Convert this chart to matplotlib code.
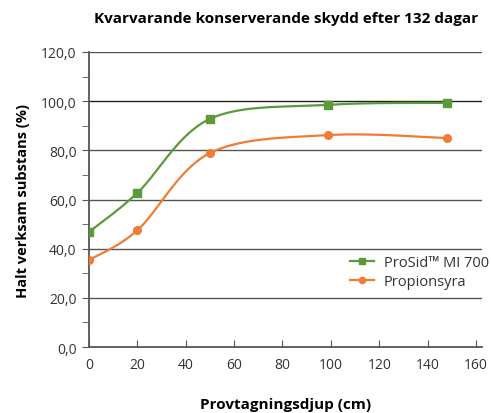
import numpy as np
import matplotlib.pyplot as plt
from matplotlib.ticker import MultipleLocator, FuncFormatter

# ======== Data ========
depth = [0, 20, 50, 99, 148]
prosid = [46.8, 62.7, 92.8, 98.5, 99.3]
propion = [35.4, 47.5, 78.9, 86.2, 85.0]
series_names = ["ProSid\u2122 MI 700", "Propionsyra"]

GREEN = "#5a9a3b"
ORANGE = "#f07b35"

plt.rcParams['font.family'] = ['Open Sans', 'DejaVu Sans']


def smooth(x, y, n=40):
    # Catmull-Rom style curve through the points (like Excel smoothed lines)
    x = np.asarray(x, float)
    y = np.asarray(y, float)
    px = np.concatenate([[x[0]], x, [x[-1]]])
    py = np.concatenate([[y[0]], y, [y[-1]]])
    xs, ys = [], []
    for i in range(1, len(px) - 2):
        t = np.linspace(0, 1, n)
        p0, p1, p2, p3 = [np.array([px[j], py[j]]) for j in range(i - 1, i + 3)]
        c1 = p1 + (p2 - p0) / 6
        c2 = p2 - (p3 - p1) / 6
        pts = ((1 - t)[:, None] ** 3 * p1 + 3 * ((1 - t) ** 2 * t)[:, None] * c1
               + 3 * ((1 - t) * t ** 2)[:, None] * c2 + (t ** 3)[:, None] * p2)
        xs.append(pts[:, 0])
        ys.append(pts[:, 1])
    return np.concatenate(xs), np.concatenate(ys)


fig = plt.figure(figsize=(4.91, 4.14), dpi=100)
ax = fig.add_axes([0.1813, 0.1594, 0.8004, 0.7126])

for yy, nm, col, mk in [(prosid, series_names[0], GREEN, 's'),
                        (propion, series_names[1], ORANGE, 'o')]:
    sx, sy = smooth(depth, yy)
    ax.plot(sx, sy, color=col, lw=1.6, zorder=3)
    ax.plot(depth, yy, linestyle='none', marker=mk, ms=5.5, color=col, zorder=4)
    ax.plot([], [], color=col, lw=1.6, marker=mk, ms=4.5, label=nm)

ax.set_xlim(0, 162.5)
ax.set_ylim(0, 120)
ax.xaxis.set_major_locator(MultipleLocator(20))
ax.yaxis.set_major_locator(MultipleLocator(20))
ax.yaxis.set_minor_locator(MultipleLocator(10))
ax.yaxis.set_major_formatter(FuncFormatter(lambda v, p: f"{v:.1f}".replace('.', ',')))

for yv in range(20, 121, 20):
    ax.axhline(yv, color='#222222' if yv == 100 else '#555555', lw=1.0, zorder=1)

for s in ['top', 'right']:
    ax.spines[s].set_visible(False)
ax.spines['left'].set_color('#555555')
ax.spines['bottom'].set_color('#555555')
ax.spines['left'].set_linewidth(1.3)
ax.spines['bottom'].set_linewidth(1.3)

ax.tick_params(axis='y', which='both', direction='out', length=5, color='#555555',
               labelsize=10, labelcolor='#333333', pad=4)
ax.tick_params(axis='x', direction='in', length=5, color='#555555',
               labelsize=10, labelcolor='#333333', pad=7)

ax.set_xlabel("Provtagningsdjup (cm)", fontsize=11, fontweight='bold', labelpad=18)
ax.set_ylabel("Halt verksam substans (%)", fontsize=10.5, fontweight='bold', labelpad=8)
fig.text(0.583, 0.955, "Kvarvarande konserverande skydd efter 132 dagar",
         ha='center', va='center', fontsize=11, fontweight='bold')

leg = ax.legend(loc='upper left', bbox_to_anchor=(0.635, 0.35), frameon=True,
                fontsize=10.5, handlelength=1.6, handletextpad=0.7,
                borderpad=0.3, labelspacing=0.25)
leg.get_frame().set_facecolor('white')
leg.get_frame().set_edgecolor('none')
for t in leg.get_texts():
    t.set_color('#333333')

fig.savefig("out.png", dpi=100)
